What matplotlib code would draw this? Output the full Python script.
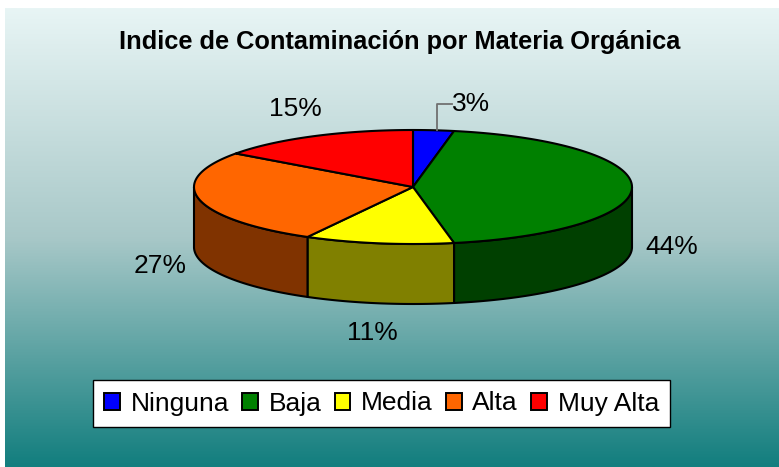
import numpy as np
import matplotlib.pyplot as plt
from matplotlib.patches import Polygon, Rectangle
from matplotlib.colors import LinearSegmentedColormap, to_rgb

plt.rcParams['font.family'] = ['Liberation Sans', 'DejaVu Sans']

categorias = ['Ninguna', 'Baja', 'Media', 'Alta', 'Muy Alta']
porcentajes = [3, 44, 11, 27, 15]
colores = ['#0000FF', '#008000', '#FFFF00', '#FF6600', '#FF0000']
titulo = 'Indice de Contaminación por Materia Orgánica'

W, H = 779, 467
fig = plt.figure(figsize=(W / 100, H / 100), dpi=100)
ax = fig.add_axes([0, 0, 1, 1])
ax.set_xlim(0, W)
ax.set_ylim(H, 0)
ax.axis('off')

# fondo degradado (blanco azulado -> verde azulado)
grad = np.linspace(0, 1, 256).reshape(-1, 1)
cmap = LinearSegmentedColormap.from_list('fondo', ['#E8F5F5', '#A8C8C8', '#127E7E'])
ax.imshow(grad, cmap=cmap, extent=[5, W, H, 8], aspect='auto', zorder=0)

# geometria del pastel 3D (en pixeles)
cx, cy, a, b, prof = 413, 187, 219, 57, 60


def elipse(t, dy=0):
    t = np.radians(t)
    return np.column_stack([cx + a * np.cos(t), cy - b * np.sin(t) + dy])


total = sum(porcentajes)
ang = 90.0
rangos = []
for val in porcentajes:
    t0 = ang
    t1 = ang - 360.0 * val / total
    rangos.append((t0, t1))
    ang = t1

# caras laterales visibles (mitad delantera)
for (t0, t1), col in zip(rangos, colores):
    lo, hi = max(t1, -180), min(t0, 0)
    if hi <= lo:
        continue
    th = np.linspace(lo, hi, 80)
    arriba = elipse(th)
    abajo = elipse(th[::-1], prof)
    osc = tuple(c * 0.5 for c in to_rgb(col))
    ax.add_patch(Polygon(np.vstack([arriba, abajo]), closed=True, facecolor=osc,
                         edgecolor='black', lw=1.5, joinstyle='round', zorder=2))

# caras superiores
for (t0, t1), col in zip(rangos, colores):
    th = np.linspace(t0, t1, 120)
    pts = np.vstack([[cx, cy], elipse(th)])
    ax.add_patch(Polygon(pts, closed=True, facecolor=col, edgecolor='black',
                         lw=1.5, joinstyle='round', zorder=3))

# etiquetas de porcentaje
for (t0, t1), val in zip(rangos, porcentajes):
    m = np.radians((t0 + t1) / 2)
    txt = '%d%%' % val
    if val == porcentajes[0]:
        px, py = cx + a * np.cos(m), cy - b * np.sin(m)
        px += 3
        ax.plot([px, px, px + 15], [py, py - 26, py - 26], color='#707070', lw=1.3, zorder=4)
        ax.text(px + 15, py - 26, txt, ha='left', va='center', fontsize=19, zorder=5)
        continue
    lx = cx + (a + 40) * np.cos(m)
    ly = cy - (b + 30) * np.sin(m)
    if np.sin(m) <= 1e-9:
        ly += prof
    ax.text(lx, ly, txt, ha='center', va='center', fontsize=19, zorder=5)

ax.text(400, 42, titulo, ha='center', va='center', fontsize=18.3, fontweight='bold')

handles = [Rectangle((0, 0), 1, 1, facecolor=c, edgecolor='black', lw=1.4) for c in colores]
leg = fig.legend(handles, categorias, loc='center', ncol=5,
                 bbox_to_anchor=(381.5 / W, 1 - 403.5 / H), fontsize=19,
                 frameon=True, fancybox=False, edgecolor='black', framealpha=1,
                 handlelength=0.6, handleheight=0.6, handletextpad=0.4,
                 columnspacing=0.5, borderpad=0.42, borderaxespad=0)
leg.get_frame().set_linewidth(1.0)

fig.savefig('out.png', dpi=100, facecolor='white')
